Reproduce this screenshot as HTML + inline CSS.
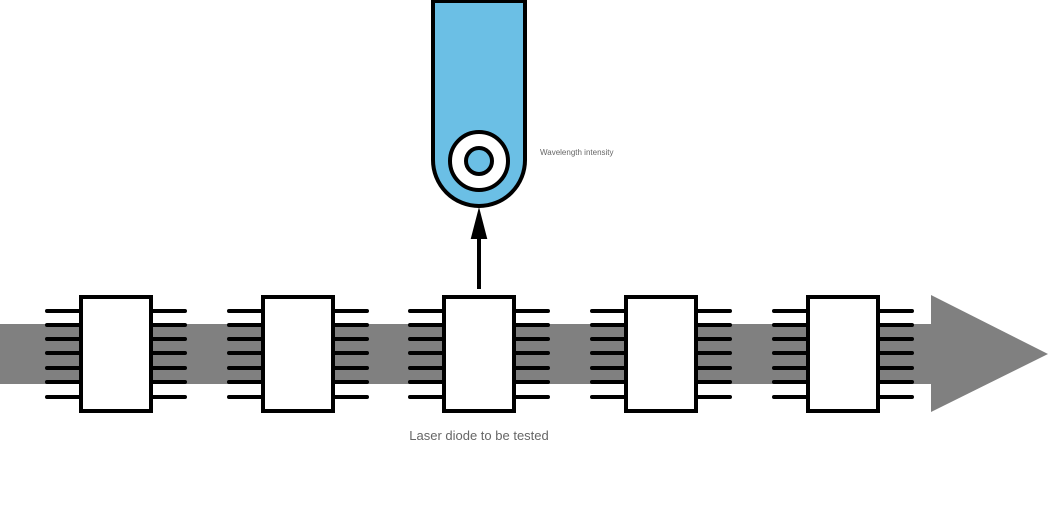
<!DOCTYPE html>
<html><head><style>
html,body{margin:0;padding:0;background:#fff;}
body{width:1049px;height:511px;overflow:hidden;}
</style></head><body>
<svg width="1049" height="511" viewBox="0 0 1049 511" xmlns="http://www.w3.org/2000/svg">
<rect x="0" y="324" width="935" height="60" fill="#808080"/>
<polygon points="931,295 1048,354 931,412" fill="#808080"/>
<g stroke="#000" stroke-width="4" stroke-linecap="round" fill="#fff">
<!-- chips -->
<g id="c1">
<path d="M47 311H81M47 325H81M47 339H81M47 353H81M47 368H81M47 382H81M47 397H81M151 311H185M151 325H185M151 339H185M151 353H185M151 368H185M151 382H185M151 397H185" fill="none"/>
<rect x="81" y="297" width="70" height="114" stroke-linecap="butt"/>
</g>
<use href="#c1" x="182"/>
<use href="#c1" x="363"/>
<use href="#c1" x="545"/>
<use href="#c1" x="727"/>
</g>
<!-- probe -->
<path d="M433 1 H525 V160 A46 46 0 0 1 433 160 Z" fill="#6bbfe5" stroke="#000" stroke-width="4"/>
<circle cx="479" cy="161" r="29" fill="#fff" stroke="#000" stroke-width="4"/>
<circle cx="479" cy="161" r="13" fill="#6bbfe5" stroke="#000" stroke-width="4"/>
<line x1="479" y1="289" x2="479" y2="234" stroke="#000" stroke-width="4"/>
<polygon points="479,211 472,238 486,238" fill="#000" stroke="#000" stroke-width="2"/>
<text x="540" y="155" font-family="Liberation Sans, sans-serif" font-size="8" fill="#666">Wavelength intensity</text>
<text x="479" y="440" text-anchor="middle" font-family="Liberation Sans, sans-serif" font-size="13" fill="#666">Laser diode to be tested</text>
</svg>
</body></html>
